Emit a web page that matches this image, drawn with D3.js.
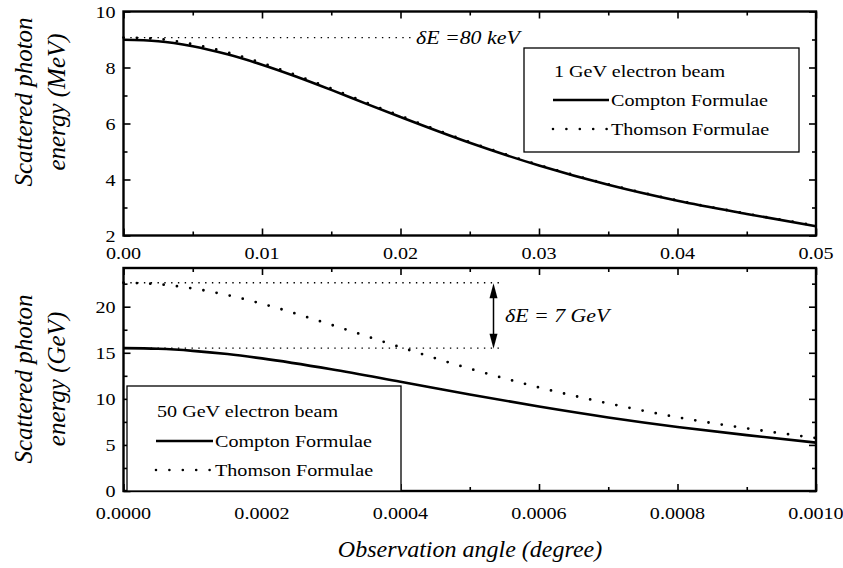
<!DOCTYPE html>
<html>
<head>
<meta charset="utf-8">
<script src="https://cdn.jsdelivr.net/npm/d3@7"></script>
<style>
  html, body { margin: 0; padding: 0; background: #fff; }
  svg { display: block; }
</style>
</head>
<body>
<div id="chart"></div>
<script>
// Panel 1: 1 GeV electron beam (MeV vs angle in degree)
const topAngles   = [0, 0.0025, 0.005, 0.0075, 0.01, 0.0125, 0.015, 0.0175, 0.02, 0.025, 0.03, 0.035, 0.04, 0.045, 0.05];
const topCompton  = [8.99, 8.94, 8.76, 8.47, 8.10, 7.67, 7.20, 6.71, 6.23, 5.31, 4.50, 3.81, 3.24, 2.77, 2.33];
const topThomson  = [9.07, 9.02, 8.83, 8.54, 8.16, 7.72, 7.25, 6.75, 6.27, 5.34, 4.52, 3.83, 3.25, 2.78, 2.35];

// Panel 2: 50 GeV electron beam (GeV vs angle in degree)
const botAngles   = [0, 0.00005, 0.0001, 0.00015, 0.0002, 0.0003, 0.0004, 0.0005, 0.0006, 0.0007, 0.0008, 0.0009, 0.001];
const botCompton  = [15.50, 15.43, 15.21, 14.86, 14.39, 13.21, 11.85, 10.47, 9.16, 7.98, 6.95, 6.06, 5.25];
const botThomson  = [22.60, 22.44, 21.98, 21.26, 20.32, 18.04, 15.60, 13.28, 11.24, 9.51, 8.00, 6.80, 5.75];

// ticks
const topXTicks = [0, 0.01, 0.02, 0.03, 0.04, 0.05];
const topXMinor = [0.005, 0.015, 0.025, 0.035, 0.045];
const topYTicks = [2, 4, 6, 8, 10];
const topYMinor = [3, 5, 7, 9];
const botXTicks = [0, 0.0002, 0.0004, 0.0006, 0.0008, 0.001];
const botXMinor = [0.0001, 0.0003, 0.0005, 0.0007, 0.0009];
const botYTicks = [0, 5, 10, 15, 20];
const botYMinor = [2.5, 7.5, 12.5, 17.5, 22.5];

const legendNames = ["Compton Formulae", "Thomson Formulae"];

const width = 843;
const height = 568;
const SX = 1.15;  // the source figure is stretched sideways
const FONT = "'Liberation Serif', 'Times New Roman', Times, serif";

const svg = d3.select("#chart").append("svg")
    .attr("width", width)
    .attr("height", height);

const xTop = d3.scaleLinear().domain([0, 0.05]).range([123.5, 816]);
const yTop = d3.scaleLinear().domain([2, 10]).range([235.5, 11.5]);
const xBot = d3.scaleLinear().domain([0, 0.001]).range([123.5, 816]);
const yBot = d3.scaleLinear().domain([0, 24.2]).range([491, 268]);

function label(x, y, str, size, anchor, italic) {
    return svg.append("text")
        .attr("transform", `translate(${x},${y}) scale(${SX},1)`)
        .attr("text-anchor", anchor || "start")
        .attr("font-family", FONT)
        .attr("font-size", size)
        .attr("font-style", italic ? "italic" : "normal")
        .text(str);
}

// frame + inward ticks on all four sides
function drawFrame(x, y, xt, xm, yt, ym, fmtX, fmtY) {
    const g = svg.append("g");
    const [x0, x1] = x.range();
    const [y1, y0] = y.range();
    const sides = [
        [d3.axisBottom(x), y1, "x"], [d3.axisTop(x), y0, "x"],
        [d3.axisLeft(y), x0, "y"], [d3.axisRight(y), x1, "y"]
    ];
    sides.forEach(([ax, pos, dir]) => {
        const major = dir === "x" ? xt : yt;
        const minor = dir === "x" ? xm : ym;
        const tr = dir === "x" ? `translate(0,${pos})` : `translate(${pos},0)`;
        [[major, 7], [minor, 4]].forEach(([vals, len]) => {
            const a = g.append("g").attr("transform", tr)
                .call(ax.tickValues(vals).tickSize(-len).tickFormat(""));
            a.select(".domain").remove();
            a.selectAll("line").attr("stroke", "#000").attr("stroke-width", 1.6);
        });
    });
    g.append("rect")
        .attr("x", x0).attr("y", y0)
        .attr("width", x1 - x0).attr("height", y1 - y0)
        .attr("fill", "none").attr("stroke", "#000").attr("stroke-width", 2.4);

    xt.forEach(v => label(x(v), fmtX.yLab, fmtX.f(v), 17.5, "middle"));
    yt.forEach(v => label(x0 - 8, y(v) + 6, fmtY(v), 17.5, "end"));
}

const line = (x, y) => d3.line()
    .x(d => x(d[0]))
    .y(d => y(d[1]))
    .curve(d3.curveMonotoneX);

function drawSeries(x, y, angles, compton, thomson) {
    svg.append("path")
        .datum(angles.map((a, i) => [a, compton[i]]))
        .attr("d", line(x, y))
        .attr("fill", "none").attr("stroke", "#000").attr("stroke-width", 2.6);
    svg.append("path")
        .datum(angles.map((a, i) => [a, thomson[i]]))
        .attr("d", line(x, y))
        .attr("fill", "none").attr("stroke", "#000").attr("stroke-width", 2.8)
        .attr("stroke-linecap", "round")
        .attr("stroke-dasharray", "0 13.4");
}

function dottedRef(x1, x2, yy) {
    svg.append("line")
        .attr("x1", x1).attr("x2", x2).attr("y1", yy).attr("y2", yy)
        .attr("stroke", "#000").attr("stroke-width", 1.3)
        .attr("stroke-dasharray", "1.4 5.4");
}

function legend(bx, by, bw, bh, title, lx, tx, rows) {
    svg.append("rect")
        .attr("x", bx).attr("y", by).attr("width", bw).attr("height", bh)
        .attr("fill", "#fff").attr("stroke", "#000").attr("stroke-width", 1.3);
    label(lx + 1, rows[0], title, 17.5, "start");
    legendNames.forEach((name, i) => {
        const ly = rows[i + 1];
        const l = svg.append("line")
            .attr("x1", lx).attr("x2", tx - 2)
            .attr("y1", ly - 6).attr("y2", ly - 6)
            .attr("stroke", "#000");
        if (i === 0) {
            l.attr("stroke-width", 2.6);
        } else {
            l.attr("stroke-width", 2.6).attr("stroke-linecap", "round")
                .attr("stroke-dasharray", "0 13.4");
        }
        label(tx, ly, name, 17.5, "start");
    });
}

// ---- top panel ----
dottedRef(xTop(0), 411, yTop(topThomson[0]));
drawSeries(xTop, yTop, topAngles, topCompton, topThomson);
drawFrame(xTop, yTop, topXTicks, topXMinor, topYTicks, topYMinor,
    { yLab: 259, f: d3.format(".2f") }, d3.format("d"));
label(416, 44, "δE =80 keV", 19, "start", true);
legend(524, 48, 275, 104, "1 GeV electron beam", 553, 611, [77, 106, 135]);

// ---- bottom panel ----
dottedRef(xBot(0), 501, yBot(botThomson[0]));
dottedRef(xBot(0), 501, yBot(botCompton[0]));
drawSeries(xBot, yBot, botAngles, botCompton, botThomson);
drawFrame(xBot, yBot, botXTicks, botXMinor, botYTicks, botYMinor,
    { yLab: 519, f: d3.format(".4f") }, d3.format("d"));

// double arrow for δE = 7 GeV
const ax = 493.5, ayT = yBot(botThomson[0]) + 0.5, ayB = yBot(botCompton[0]) + 0.5;
svg.append("line").attr("x1", ax).attr("x2", ax).attr("y1", ayT + 10).attr("y2", ayB - 10)
    .attr("stroke", "#000").attr("stroke-width", 1.5);
svg.append("path").attr("d", `M${ax},${ayT} L${ax - 4},${ayT + 15} L${ax + 4},${ayT + 15} Z`);
svg.append("path").attr("d", `M${ax},${ayB} L${ax - 4},${ayB - 15} L${ax + 4},${ayB - 15} Z`);
label(505, 322, "δE = 7 GeV", 19, "start", true);

legend(127, 386, 274, 105, "50 GeV electron beam", 156, 215, [417, 447, 476]);

// ---- axis titles ----
function yTitle(cy, l1, l2) {
    [[23, l1], [56, l2]].forEach(([cx, s]) => {
        svg.append("text")
            .attr("transform", `translate(${cx + 9},${cy}) rotate(-90)`)
            .attr("text-anchor", "middle")
            .attr("font-family", FONT)
            .attr("font-size", 25)
            .attr("font-style", "italic")
            .text(s);
    });
}
yTitle(102, "Scattered photon", "energy (MeV)");
yTitle(379, "Scattered photon", "energy (GeV)");

svg.append("text")
    .attr("x", 470).attr("y", 557)
    .attr("text-anchor", "middle")
    .attr("font-family", FONT)
    .attr("font-size", 24)
    .attr("font-style", "italic")
    .text("Observation angle (degree)");
</script>
</body>
</html>
